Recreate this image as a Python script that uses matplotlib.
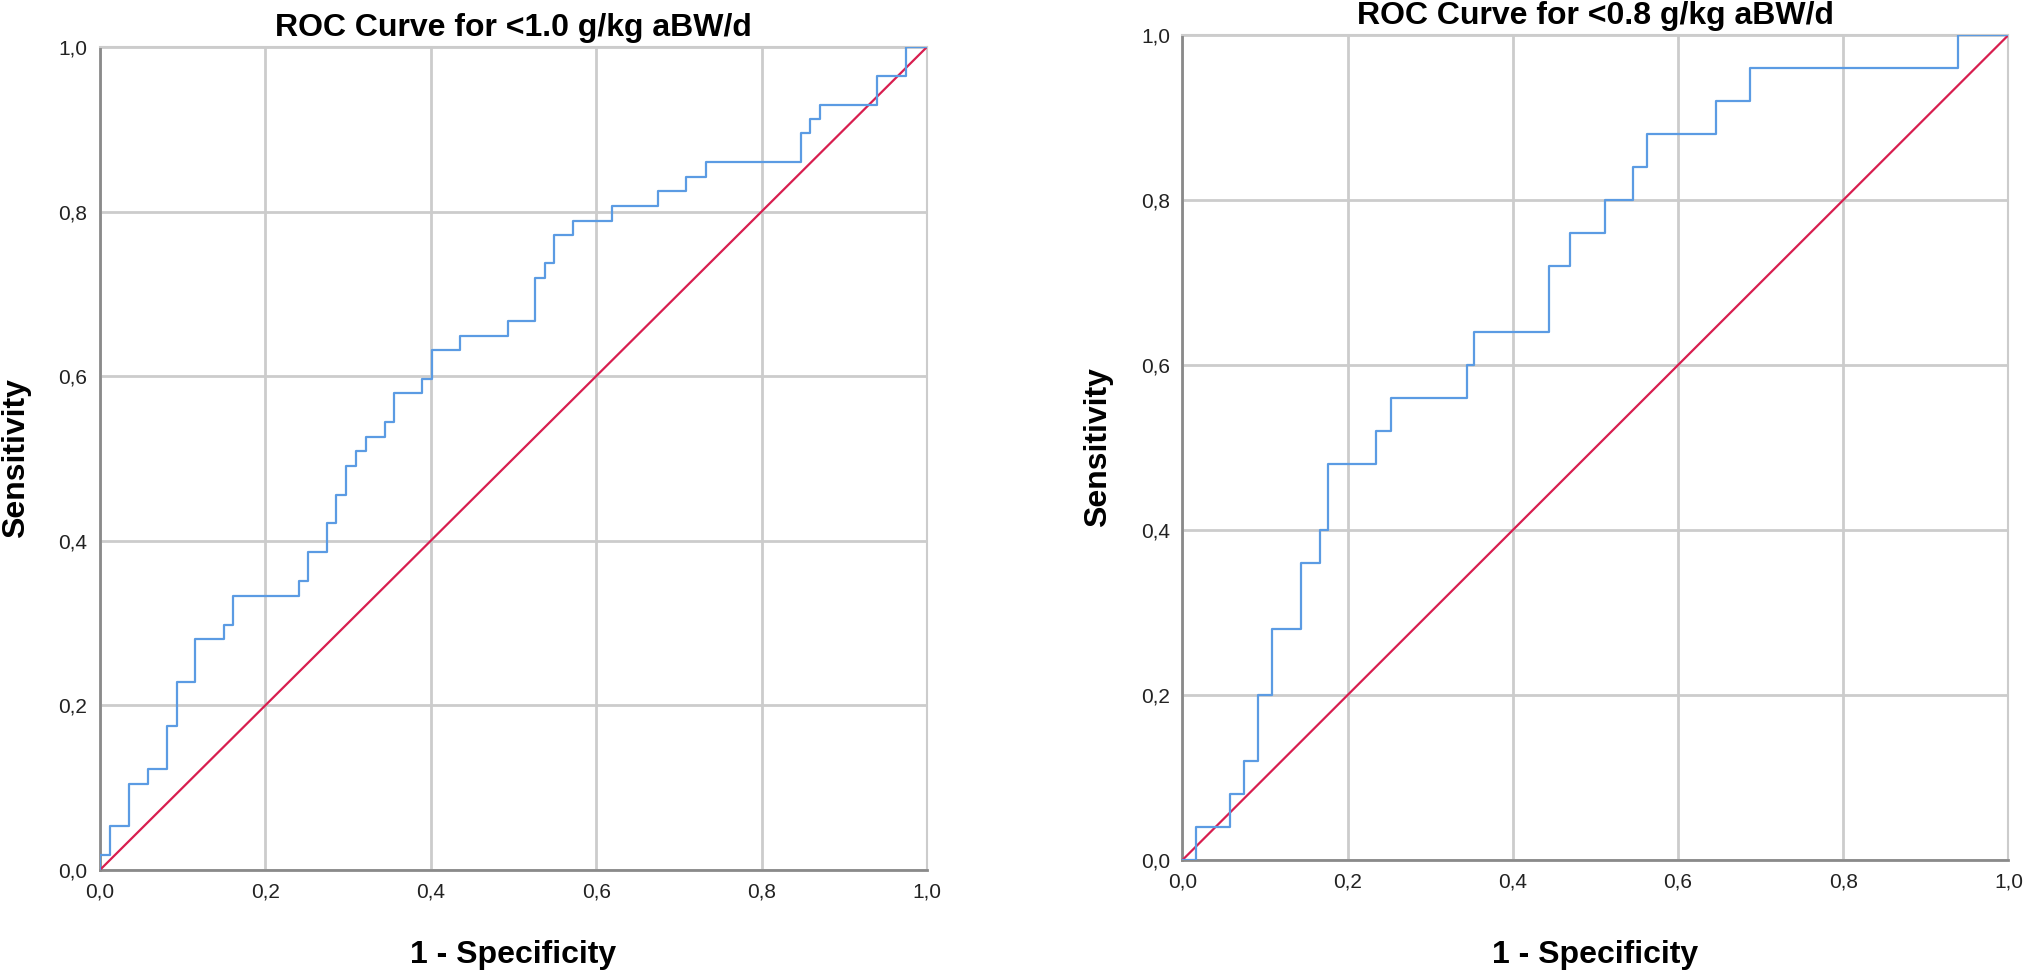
import matplotlib
matplotlib.use("Agg")
import matplotlib.pyplot as plt

plt.rcParams['font.family'] = ['Liberation Sans', 'DejaVu Sans']

# ROC points (1 - specificity, sensitivity)
fpr_10 = [0.0, 0.012, 0.035, 0.058, 0.081, 0.093, 0.115, 0.150, 0.161, 0.241,
          0.252, 0.275, 0.286, 0.298, 0.310, 0.322, 0.345, 0.355, 0.390, 0.401,
          0.435, 0.493, 0.526, 0.538, 0.549, 0.572, 0.619, 0.675, 0.709, 0.733,
          0.848, 0.859, 0.871, 0.940, 0.975, 1.0]
tpr_10 = [0.0, 0.018, 0.053, 0.105, 0.123, 0.175, 0.228, 0.281, 0.298, 0.333,
          0.351, 0.386, 0.421, 0.456, 0.491, 0.509, 0.526, 0.544, 0.579, 0.596,
          0.632, 0.649, 0.667, 0.719, 0.737, 0.772, 0.789, 0.807, 0.825, 0.842,
          0.860, 0.895, 0.912, 0.930, 0.965, 1.0]

fpr_08 = [0.0, 0.016, 0.058, 0.075, 0.092, 0.109, 0.143, 0.167, 0.176, 0.234,
          0.252, 0.344, 0.353, 0.444, 0.469, 0.512, 0.546, 0.562, 0.646, 0.687,
          0.939, 1.0]
tpr_08 = [0.0, 0.0, 0.04, 0.08, 0.12, 0.20, 0.28, 0.36, 0.40, 0.48,
          0.52, 0.56, 0.60, 0.64, 0.72, 0.76, 0.80, 0.84, 0.88, 0.92,
          0.96, 1.0]

ticks = [0.0, 0.2, 0.4, 0.6, 0.8, 1.0]
tick_labels = ['0,0', '0,2', '0,4', '0,6', '0,8', '1,0']

titles = ['ROC Curve for <1.0 g/kg aBW/d', 'ROC Curve for <0.8 g/kg aBW/d']

blue = '#5b9be3'
red = '#d81e4f'
grid_col = '#cccccc'
spine_col = '#8a8a8a'

fig = plt.figure(figsize=(20.23, 9.73), dpi=100)
ax1 = fig.add_axes([0.0494, 0.1059, 0.4088, 0.8458])
ax2 = fig.add_axes([0.5845, 0.1161, 0.4083, 0.8479])

panels = [(ax1, fpr_10, tpr_10, titles[0], -0.103),
          (ax2, fpr_08, tpr_08, titles[1], -0.115)]

for ax, fpr, tpr, title, xlab_y in panels:
    ax.set_xlim(0, 1)
    ax.set_ylim(0, 1)
    ax.set_xticks(ticks)
    ax.set_yticks(ticks)
    ax.set_xticklabels(tick_labels)
    ax.set_yticklabels(tick_labels)
    ax.tick_params(length=0, labelsize=15, pad=9, labelcolor='#222222')
    ax.grid(True, color=grid_col, linewidth=2)
    ax.set_axisbelow(True)
    for side in ['top', 'right']:
        ax.spines[side].set_color(grid_col)
        ax.spines[side].set_linewidth(1.5)
    for side in ['left', 'bottom']:
        ax.spines[side].set_color(spine_col)
        ax.spines[side].set_linewidth(2)

    # diagonal reference line
    ax.plot([0, 1], [0, 1], color=red, linewidth=1.6, zorder=3)
    ax.step(fpr, tpr, where='pre', color=blue, linewidth=1.6, zorder=4)

    ax.set_title(title, fontsize=23, fontweight='bold', pad=8)
    ax.set_xlabel('1 - Specificity', fontsize=23, fontweight='bold')
    ax.set_ylabel('Sensitivity', fontsize=23, fontweight='bold')
    ax.xaxis.set_label_coords(0.5, xlab_y)
    ax.yaxis.set_label_coords(-0.102, 0.5)
    ax.xaxis.label.set_va('center')
    ax.yaxis.label.set_va('center')

fig.savefig('out.png', dpi=100, facecolor='white')
